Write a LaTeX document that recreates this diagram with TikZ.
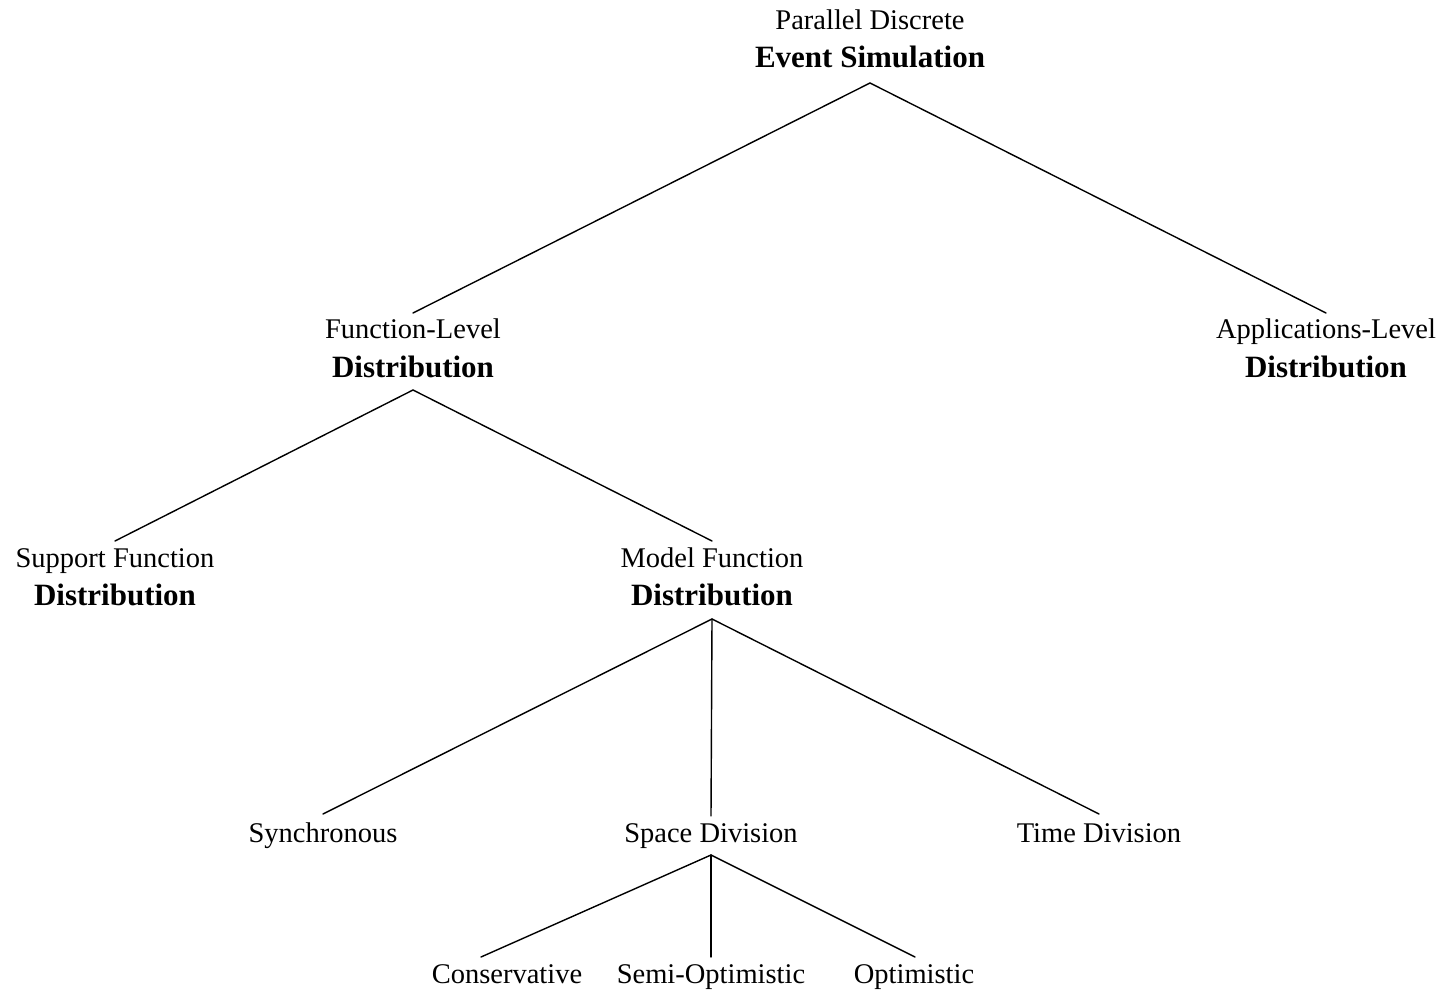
\documentclass[tikz,border=0pt]{standalone}
\usepackage{fontspec}
\setmainfont{Liberation Serif}
\begin{document}
\begin{tikzpicture}[x=1pt,y=-1pt,
  lbl/.style={inner sep=0pt,anchor=base,font=\fontsize{28.5}{34}\selectfont},
  head/.style={inner sep=0pt,anchor=base,font=\fontsize{31}{37}\selectfont\bfseries},
  edge/.style={line width=1.4pt,line cap=round,black}]
\useasboundingbox (0,0) rectangle (1448,995);

% root
\node[lbl]  (root1) at (870,30) {Parallel Discrete};
\node[head] (root2) at (870,68) {Event Simulation};

% level 1
\node[lbl]  (fl1) at (413,338) {Function-Level};
\node[head] (fl2) at (413,377) {Distribution};
\node[lbl]  (al1) at (1326,338) {Applications-Level};
\node[head] (al2) at (1326,377) {Distribution};

% level 2
\node[lbl]  (sf1) at (115,567) {Support Function};
\node[head] (sf2) at (115,605) {Distribution};
\node[lbl]  (mf1) at (712,567) {Model Function};
\node[head] (mf2) at (712,605) {Distribution};

% level 3
\node[lbl] (sync)  at (323,842) {Synchronous};
\node[lbl] (space) at (711,842) {Space Division};
\node[lbl] (time)  at (1099,842) {Time Division};

% level 4
\node[lbl] (cons) at (507,983) {Conservative};
\node[lbl] (semi) at (711,983) {Semi-Optimistic};
\node[lbl] (opt)  at (914,983) {Optimistic};

% connectors
\draw[edge] ([yshift=25pt]fl1.base) -- ([yshift=-15pt]root2.base) -- ([yshift=25pt]al1.base);
\draw[edge] ([yshift=26pt]sf1.base) -- ([yshift=-13pt]fl2.base) -- ([yshift=26pt]mf1.base);
\draw[edge] ([yshift=28pt]sync.base) -- ([yshift=-14pt]mf2.base) -- ([yshift=28pt]time.base);
\draw[edge] ([yshift=-14pt]mf2.base) -- ([yshift=26pt]space.base);
\draw[edge] ([xshift=-26pt,yshift=26pt]cons.base) -- ([yshift=-13pt]space.base) -- ([xshift=1pt,yshift=26pt]opt.base);
\draw[edge] ([yshift=-13pt]space.base) -- ([yshift=26pt]semi.base);
\end{tikzpicture}
\end{document}
